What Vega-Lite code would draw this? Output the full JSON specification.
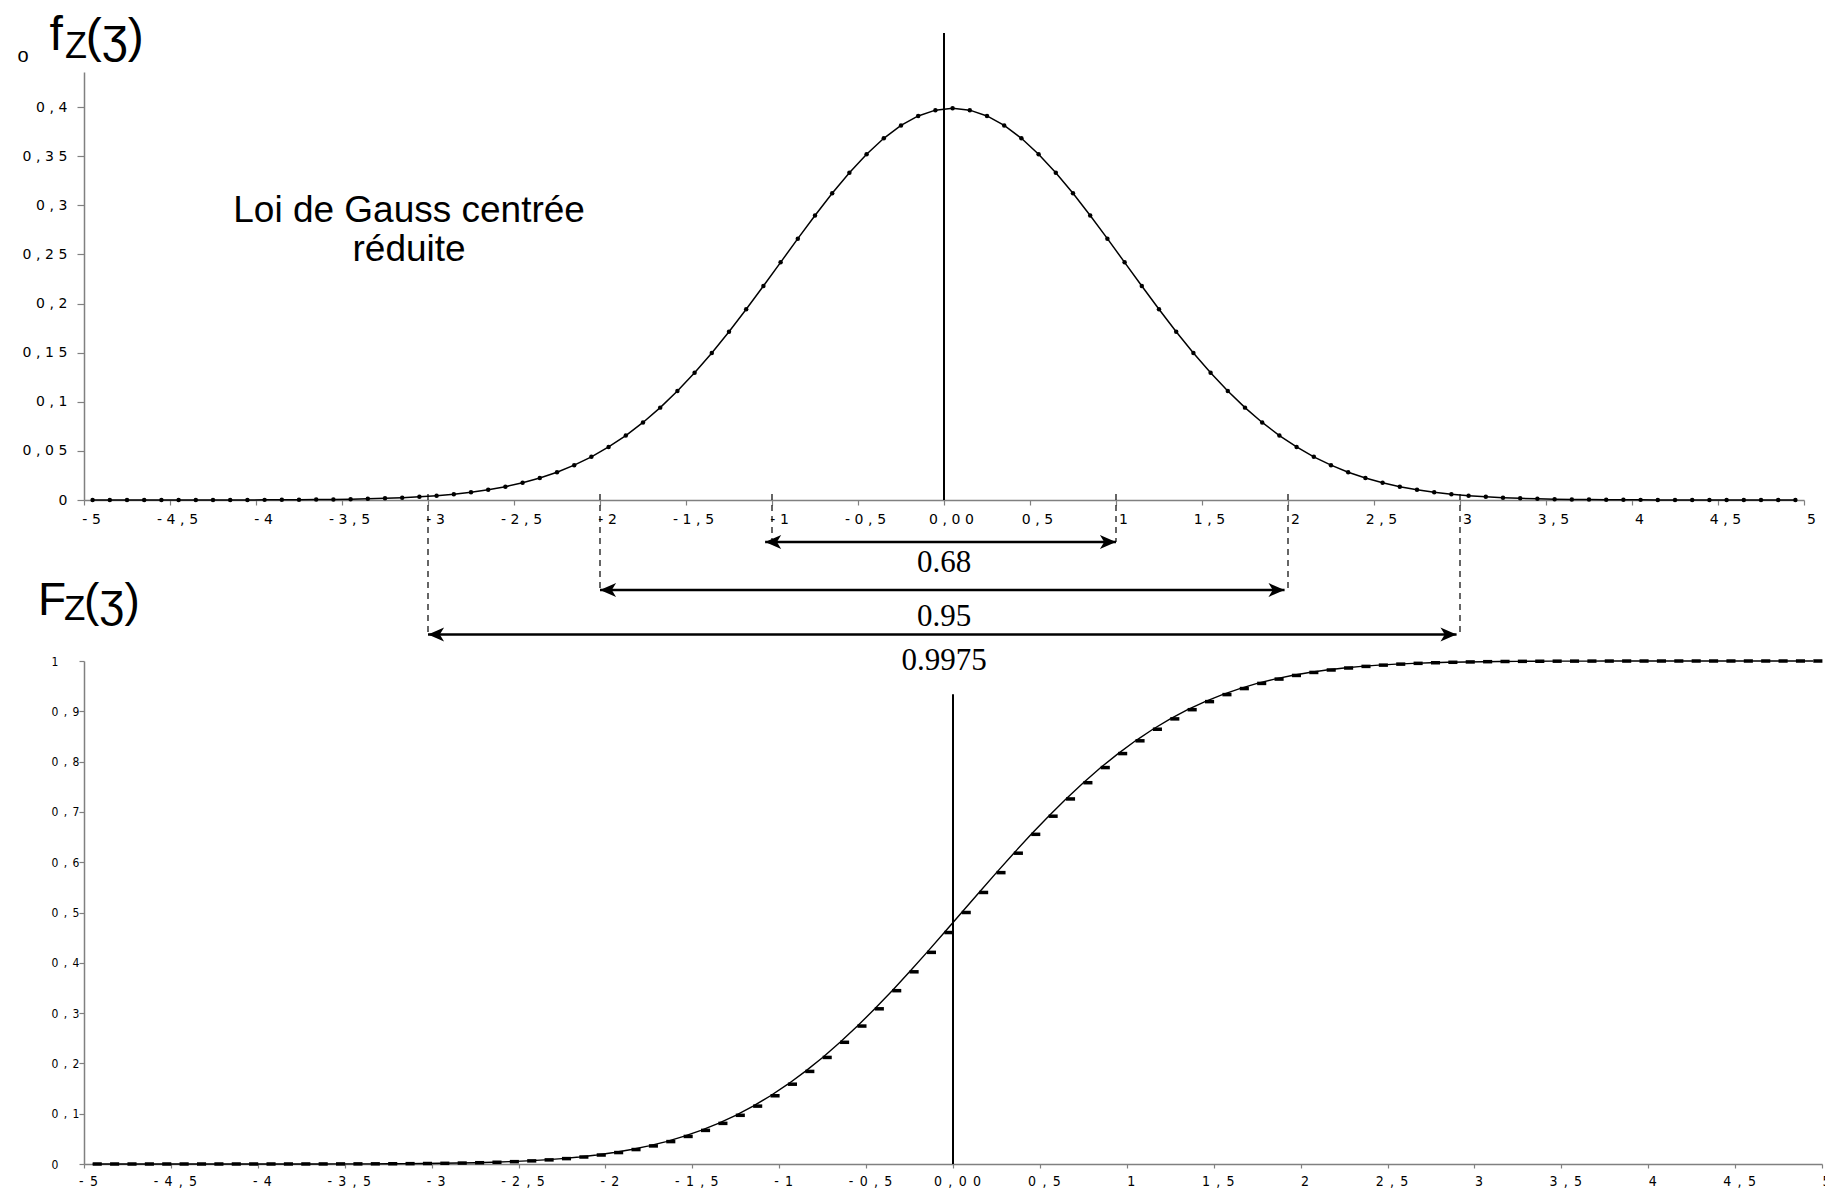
{
  "$schema": "https://vega.github.io/schema/vega-lite/v6.json",
  "background": "white",
  "padding": {"left": 17, "top": 12, "right": 0, "bottom": 0},
  "bounds": "flush",
  "spacing": 161,
  "config": {
    "view": {"stroke": null},
    "axis": {"grid": false, "domainColor": "#808080", "tickColor": "#808080", "labelColor": "black", "domainWidth": 1.5, "tickWidth": 1.2, "labelFlush": false, "labelOverlap": false}
  },
  "datasets": {
    "courbe": [
      {"z": -4.95, "f": 0.0000015, "F": 0.0000003},
      {"z": -4.85, "f": 0.0000024, "F": 0.0000005},
      {"z": -4.75, "f": 0.000004, "F": 0.0000008},
      {"z": -4.65, "f": 0.0000063, "F": 0.0000013},
      {"z": -4.55, "f": 0.0000101, "F": 0.0000021},
      {"z": -4.45, "f": 0.000016, "F": 0.0000034},
      {"z": -4.35, "f": 0.0000249, "F": 0.0000054},
      {"z": -4.25, "f": 0.0000385, "F": 0.0000085},
      {"z": -4.15, "f": 0.0000589, "F": 0.0000133},
      {"z": -4.05, "f": 0.0000893, "F": 0.0000207},
      {"z": -3.95, "f": 0.000134, "F": 0.0000317},
      {"z": -3.85, "f": 0.000199, "F": 0.0000481},
      {"z": -3.75, "f": 0.000292, "F": 0.0000723},
      {"z": -3.65, "f": 0.000425, "F": 0.000108},
      {"z": -3.55, "f": 0.000612, "F": 0.000159},
      {"z": -3.45, "f": 0.000873, "F": 0.000233},
      {"z": -3.35, "f": 0.001232, "F": 0.000337},
      {"z": -3.25, "f": 0.001723, "F": 0.000483},
      {"z": -3.15, "f": 0.002384, "F": 0.000687},
      {"z": -3.05, "f": 0.003267, "F": 0.000968},
      {"z": -2.95, "f": 0.004432, "F": 0.00135},
      {"z": -2.85, "f": 0.005953, "F": 0.001866},
      {"z": -2.75, "f": 0.007915, "F": 0.002555},
      {"z": -2.65, "f": 0.010421, "F": 0.003467},
      {"z": -2.55, "f": 0.013583, "F": 0.004661},
      {"z": -2.45, "f": 0.017528, "F": 0.00621},
      {"z": -2.35, "f": 0.022395, "F": 0.008198},
      {"z": -2.25, "f": 0.028327, "F": 0.010724},
      {"z": -2.15, "f": 0.035475, "F": 0.013903},
      {"z": -2.05, "f": 0.043984, "F": 0.017864},
      {"z": -1.95, "f": 0.053991, "F": 0.02275},
      {"z": -1.85, "f": 0.065616, "F": 0.028717},
      {"z": -1.75, "f": 0.07895, "F": 0.03593},
      {"z": -1.65, "f": 0.094049, "F": 0.044565},
      {"z": -1.55, "f": 0.110921, "F": 0.054799},
      {"z": -1.45, "f": 0.129518, "F": 0.066807},
      {"z": -1.35, "f": 0.149727, "F": 0.080757},
      {"z": -1.25, "f": 0.171369, "F": 0.0968},
      {"z": -1.15, "f": 0.194186, "F": 0.11507},
      {"z": -1.05, "f": 0.217852, "F": 0.135666},
      {"z": -0.95, "f": 0.241971, "F": 0.158655},
      {"z": -0.85, "f": 0.266085, "F": 0.18406},
      {"z": -0.75, "f": 0.289692, "F": 0.211855},
      {"z": -0.65, "f": 0.312254, "F": 0.241964},
      {"z": -0.55, "f": 0.333225, "F": 0.274253},
      {"z": -0.45, "f": 0.352065, "F": 0.308538},
      {"z": -0.35, "f": 0.36827, "F": 0.344578},
      {"z": -0.25, "f": 0.381388, "F": 0.382089},
      {"z": -0.15, "f": 0.391043, "F": 0.42074},
      {"z": -0.05, "f": 0.396953, "F": 0.460172},
      {"z": 0.05, "f": 0.398942, "F": 0.5},
      {"z": 0.15, "f": 0.396953, "F": 0.539828},
      {"z": 0.25, "f": 0.391043, "F": 0.57926},
      {"z": 0.35, "f": 0.381388, "F": 0.617911},
      {"z": 0.45, "f": 0.36827, "F": 0.655422},
      {"z": 0.55, "f": 0.352065, "F": 0.691462},
      {"z": 0.65, "f": 0.333225, "F": 0.725747},
      {"z": 0.75, "f": 0.312254, "F": 0.758036},
      {"z": 0.85, "f": 0.289692, "F": 0.788145},
      {"z": 0.95, "f": 0.266085, "F": 0.81594},
      {"z": 1.05, "f": 0.241971, "F": 0.841345},
      {"z": 1.15, "f": 0.217852, "F": 0.864334},
      {"z": 1.25, "f": 0.194186, "F": 0.88493},
      {"z": 1.35, "f": 0.171369, "F": 0.9032},
      {"z": 1.45, "f": 0.149727, "F": 0.919243},
      {"z": 1.55, "f": 0.129518, "F": 0.933193},
      {"z": 1.65, "f": 0.110921, "F": 0.945201},
      {"z": 1.75, "f": 0.094049, "F": 0.955435},
      {"z": 1.85, "f": 0.07895, "F": 0.96407},
      {"z": 1.95, "f": 0.065616, "F": 0.971283},
      {"z": 2.05, "f": 0.053991, "F": 0.97725},
      {"z": 2.15, "f": 0.043984, "F": 0.982136},
      {"z": 2.25, "f": 0.035475, "F": 0.986097},
      {"z": 2.35, "f": 0.028327, "F": 0.989276},
      {"z": 2.45, "f": 0.022395, "F": 0.991802},
      {"z": 2.55, "f": 0.017528, "F": 0.99379},
      {"z": 2.65, "f": 0.013583, "F": 0.995339},
      {"z": 2.75, "f": 0.010421, "F": 0.996533},
      {"z": 2.85, "f": 0.007915, "F": 0.997445},
      {"z": 2.95, "f": 0.005953, "F": 0.998134},
      {"z": 3.05, "f": 0.004432, "F": 0.99865},
      {"z": 3.15, "f": 0.003267, "F": 0.999032},
      {"z": 3.25, "f": 0.002384, "F": 0.999313},
      {"z": 3.35, "f": 0.001723, "F": 0.999517},
      {"z": 3.45, "f": 0.001232, "F": 0.999663},
      {"z": 3.55, "f": 0.000873, "F": 0.999767},
      {"z": 3.65, "f": 0.000612, "F": 0.999841},
      {"z": 3.75, "f": 0.000425, "F": 0.999892},
      {"z": 3.85, "f": 0.000292, "F": 0.999928},
      {"z": 3.95, "f": 0.000199, "F": 0.999952},
      {"z": 4.05, "f": 0.000134, "F": 0.999968},
      {"z": 4.15, "f": 0.0000893, "F": 0.999979},
      {"z": 4.25, "f": 0.0000589, "F": 0.999987},
      {"z": 4.35, "f": 0.0000385, "F": 0.999991},
      {"z": 4.45, "f": 0.0000249, "F": 0.999995},
      {"z": 4.55, "f": 0.000016, "F": 0.999997},
      {"z": 4.65, "f": 0.0000101, "F": 0.999998},
      {"z": 4.75, "f": 0.0000063, "F": 0.999999},
      {"z": 4.85, "f": 0.000004, "F": 0.999999},
      {"z": 4.95, "f": 0.0000024, "F": 1.0}
    ],
    "seuils": [
      {"z": -1, "haut": 0.006, "bas": -0.0428},
      {"z": 1, "haut": 0.006, "bas": -0.0428},
      {"z": -2, "haut": 0.006, "bas": -0.0916},
      {"z": 2, "haut": 0.006, "bas": -0.0916},
      {"z": -3, "haut": 0.006, "bas": -0.138},
      {"z": 3, "haut": 0.006, "bas": -0.138}
    ],
    "fleches": [
      {"de": -1.04, "a": 1.0, "niveau": -0.0428, "p": "0.68", "yp": -0.064},
      {"de": -2.0, "a": 1.98, "niveau": -0.0916, "p": "0.95", "yp": -0.119},
      {"de": -3.0, "a": 2.98, "niveau": -0.137, "p": "0.9975", "yp": -0.164}
    ]
  },
  "vconcat": [
    {
      "width": 1720,
      "height": 428,
      "layer": [
        {
          "data": {"name": "courbe"},
          "mark": {"type": "line", "color": "black", "strokeWidth": 1.5},
          "encoding": {
            "x": {"field": "z", "type": "quantitative",
              "scale": {"domain": [-5, 5], "nice": false, "zero": false},
              "axis": {"title": null, "values": [-5, -4.5, -4, -3.5, -3, -2.5, -2, -1.5, -1, -0.5, 0, 0.5, 1, 1.5, 2, 2.5, 3, 3.5, 4, 4.5, 5],
                "labelExpr": "replace(datum.value === 0 ? '0,00' : replace('' + datum.value, '.', ','), regexp('(.)(?=.)', 'g'), '$1\u2004')",
                "labelFont": "DejaVu Sans", "labelFontSize": 14, "labelOffset": 7, "labelPadding": 7, "tickSize": 5}},
            "y": {"field": "f", "type": "quantitative",
              "scale": {"domain": [0, 0.4358], "nice": false},
              "axis": {"title": null, "values": [0, 0.05, 0.1, 0.15, 0.2, 0.25, 0.3, 0.35, 0.4],
                "labelExpr": "replace(replace('' + datum.value, '.', ','), regexp('(.)(?=.)', 'g'), '$1\u2004')",
                "labelFont": "DejaVu Sans", "labelFontSize": 14, "labelPadding": 10, "tickSize": 7}}
          }
        },
        {
          "data": {"name": "courbe"},
          "mark": {"type": "circle", "color": "black", "size": 20, "opacity": 1},
          "encoding": {
            "x": {"field": "z", "type": "quantitative"},
            "y": {"field": "f", "type": "quantitative"}
          }
        },
        {
          "data": {"values": [{"z": 0, "bas": 0, "haut": 0.4755}]},
          "mark": {"type": "rule", "color": "black", "strokeWidth": 2},
          "encoding": {
            "x": {"field": "z", "type": "quantitative"},
            "y": {"field": "bas", "type": "quantitative"},
            "y2": {"field": "haut"}
          }
        },
        {
          "data": {"name": "seuils"},
          "mark": {"type": "rule", "color": "black", "strokeWidth": 1.2, "strokeDash": [6, 5]},
          "encoding": {
            "x": {"field": "z", "type": "quantitative"},
            "y": {"field": "haut", "type": "quantitative"},
            "y2": {"field": "bas"}
          }
        },
        {
          "data": {"name": "fleches"},
          "mark": {"type": "rule", "color": "black", "strokeWidth": 2.5},
          "encoding": {
            "x": {"field": "de", "type": "quantitative"},
            "x2": {"field": "a"},
            "y": {"field": "niveau", "type": "quantitative"}
          }
        },
        {
          "data": {"name": "fleches"},
          "mark": {"type": "point", "shape": "M0,0L1.5,-0.65L1.1,0L1.5,0.65Z", "filled": true, "color": "black", "size": 460, "opacity": 1},
          "encoding": {
            "x": {"field": "de", "type": "quantitative"},
            "y": {"field": "niveau", "type": "quantitative"}
          }
        },
        {
          "data": {"name": "fleches"},
          "mark": {"type": "point", "shape": "M0,0L-1.5,-0.65L-1.1,0L-1.5,0.65Z", "filled": true, "color": "black", "size": 460, "opacity": 1},
          "encoding": {
            "x": {"field": "a", "type": "quantitative"},
            "y": {"field": "niveau", "type": "quantitative"}
          }
        },
        {
          "data": {"name": "fleches"},
          "mark": {"type": "text", "font": "Liberation Serif", "fontSize": 31, "baseline": "middle", "align": "center", "color": "black"},
          "encoding": {
            "x": {"datum": 0},
            "y": {"field": "yp", "type": "quantitative"},
            "text": {"field": "p"}
          }
        },
        {
          "data": {"values": [{}]},
          "mark": {"type": "text", "text": ["Loi de Gauss centrée", "réduite"], "font": "Liberation Sans", "fontSize": 37, "lineHeight": 39, "align": "center", "baseline": "alphabetic", "color": "black"},
          "encoding": {"x": {"datum": -3.11}, "y": {"datum": 0.2833}}
        },
        {
          "data": {"values": [{}]},
          "mark": {"type": "text", "text": "f", "font": "Liberation Sans", "fontSize": 48, "align": "left", "baseline": "alphabetic", "color": "black"},
          "encoding": {"x": {"datum": -5.2}, "y": {"datum": 0.4582}}
        },
        {
          "data": {"values": [{}]},
          "mark": {"type": "text", "text": "Z", "font": "Liberation Sans", "fontSize": 36, "align": "left", "baseline": "alphabetic", "color": "black"},
          "encoding": {"x": {"datum": -5.11}, "y": {"datum": 0.45}}
        },
        {
          "data": {"values": [{}]},
          "mark": {"type": "text", "text": "(ʒ)", "font": "Liberation Sans", "fontSize": 48, "align": "left", "baseline": "alphabetic", "color": "black"},
          "encoding": {"x": {"datum": -4.99}, "y": {"datum": 0.4561}}
        },
        {
          "data": {"values": [{}]},
          "mark": {"type": "text", "text": "o", "font": "Liberation Sans", "fontSize": 20, "align": "center", "baseline": "alphabetic", "color": "black"},
          "encoding": {"x": {"datum": -5.355}, "y": {"datum": 0.4459}}
        }
      ]
    },
    {
      "width": 1738,
      "height": 503,
      "layer": [
        {
          "data": {"name": "courbe"},
          "mark": {"type": "line", "color": "black", "strokeWidth": 1.4},
          "encoding": {
            "x": {"field": "z", "type": "quantitative",
              "scale": {"domain": [-5, 5], "nice": false, "zero": false},
              "axis": {"title": null, "values": [-5, -4.5, -4, -3.5, -3, -2.5, -2, -1.5, -1, -0.5, 0, 0.5, 1, 1.5, 2, 2.5, 3, 3.5, 4, 4.5, 5],
                "labelExpr": "replace(datum.value === 0 ? '0,00' : replace('' + datum.value, '.', ','), regexp('(.)(?=.)', 'g'), '$1\u2002')",
                "labelFont": "'Liberation Sans Narrow', 'DejaVu Sans Condensed', sans-serif", "labelFontSize": 14, "labelOffset": 4, "labelPadding": 6, "tickSize": 4}},
            "y": {"field": "F", "type": "quantitative",
              "scale": {"domain": [0, 1], "nice": false},
              "axis": {"title": null, "values": [0, 0.1, 0.2, 0.3, 0.4, 0.5, 0.6, 0.7, 0.8, 0.9, 1],
                "labelExpr": "replace(replace('' + datum.value, '.', ','), regexp('(.)(?=.)', 'g'), '$1\u2002')",
                "labelFont": "'Liberation Sans Narrow', 'DejaVu Sans Condensed', sans-serif", "labelFontSize": 12, "labelAlign": "left", "labelPadding": 28, "tickSize": 5}}
          }
        },
        {
          "data": {"name": "courbe"},
          "mark": {"type": "point", "shape": "M0,-0.25L1.3,-0.25L1.3,0.25L0,0.25Z", "filled": true, "color": "black", "size": 196, "opacity": 1},
          "encoding": {
            "x": {"field": "z", "type": "quantitative"},
            "y": {"field": "F", "type": "quantitative"}
          }
        },
        {
          "data": {"values": [{"z": 0, "bas": 0, "haut": 0.934}]},
          "mark": {"type": "rule", "color": "black", "strokeWidth": 2},
          "encoding": {
            "x": {"field": "z", "type": "quantitative"},
            "y": {"field": "bas", "type": "quantitative"},
            "y2": {"field": "haut"}
          }
        },
        {
          "data": {"values": [{}]},
          "mark": {"type": "text", "text": "F", "font": "Liberation Sans", "fontSize": 46, "align": "left", "baseline": "alphabetic", "color": "black"},
          "encoding": {"x": {"datum": -5.265}, "y": {"datum": 1.0915}}
        },
        {
          "data": {"values": [{}]},
          "mark": {"type": "text", "text": "Z", "font": "Liberation Sans", "fontSize": 35, "align": "left", "baseline": "alphabetic", "color": "black"},
          "encoding": {"x": {"datum": -5.115}, "y": {"datum": 1.0815}}
        },
        {
          "data": {"values": [{}]},
          "mark": {"type": "text", "text": "(ʒ)", "font": "Liberation Sans", "fontSize": 46, "align": "left", "baseline": "alphabetic", "color": "black"},
          "encoding": {"x": {"datum": -5.0}, "y": {"datum": 1.0895}}
        }
      ]
    }
  ]
}
